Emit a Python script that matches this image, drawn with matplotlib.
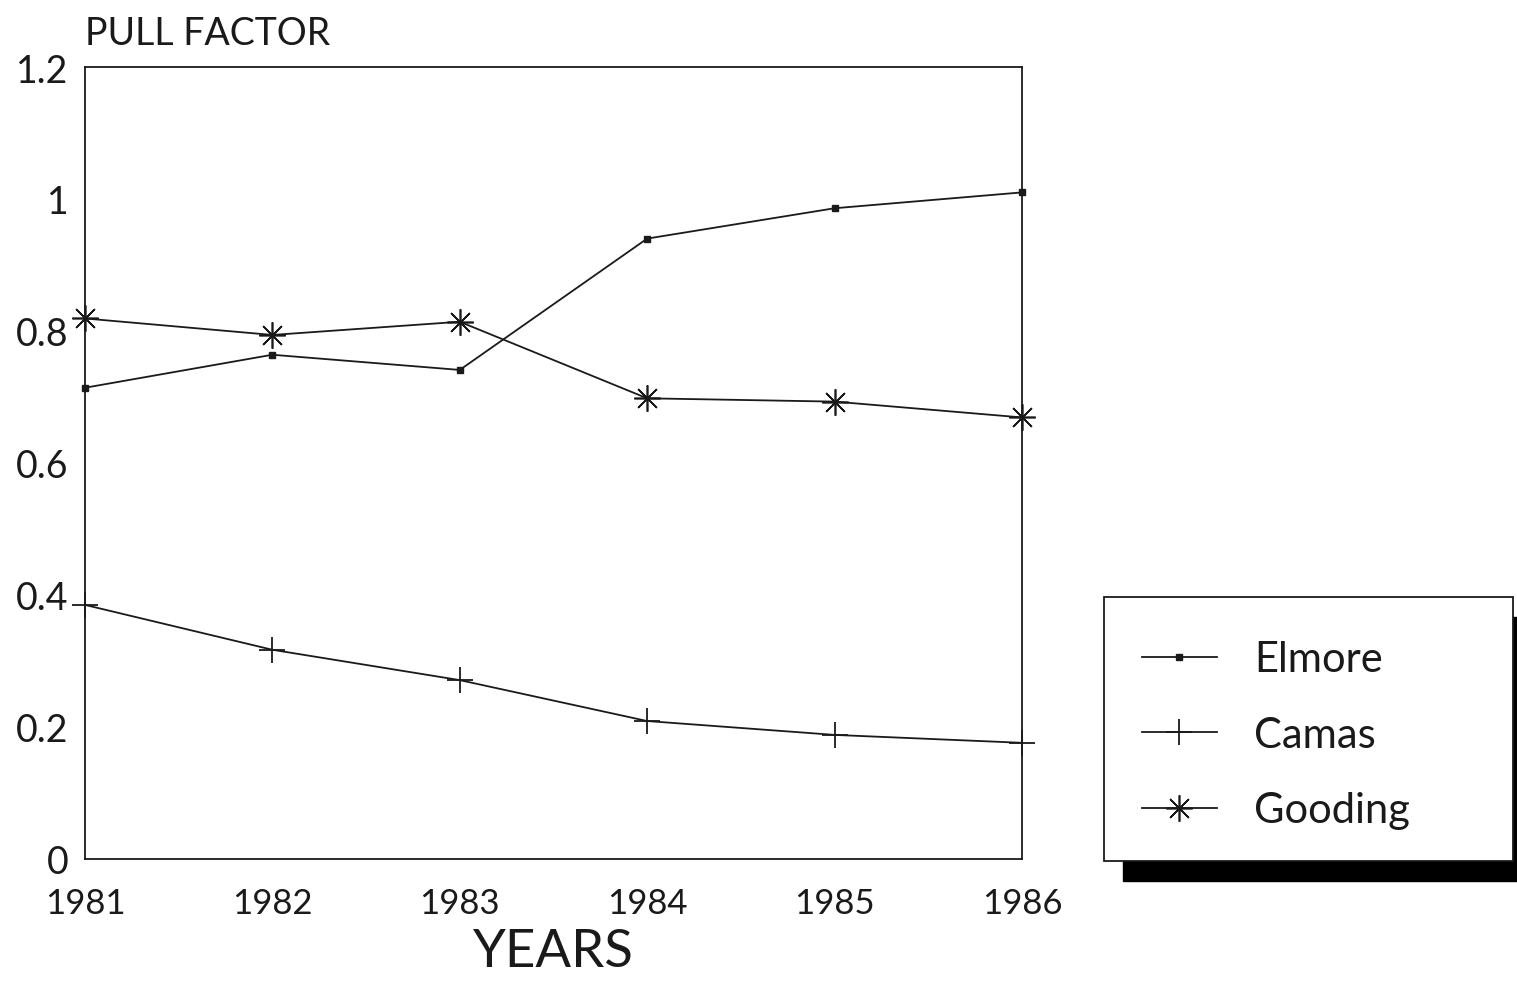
import matplotlib
matplotlib.use('Agg')
import matplotlib.pyplot as plt
from matplotlib.patches import Rectangle
from matplotlib.lines import Line2D

YEARS = [1981, 1982, 1983, 1984, 1985, 1986]
ELMORE = [0.714, 0.764, 0.741, 0.940, 0.986, 1.010]
CAMAS = [0.385, 0.317, 0.271, 0.209, 0.188, 0.176]
GOODING = [0.819, 0.794, 0.814, 0.698, 0.693, 0.669]

Y_TICKS = [0, 0.2, 0.4, 0.6, 0.8, 1.0, 1.2]
Y_TICK_LABELS = ["0", "0.2", "0.4", "0.6", "0.8", "1", "1.2"]

FONT = dict(family="Lato", weight="normal")
INK = "#1a1a1a"

fig = plt.figure(figsize=(15.17, 9.87), dpi=100, facecolor="white")
ax = fig.add_axes([0.056, 0.1287, 0.6177, 0.8024])

ax.plot(YEARS, ELMORE, color=INK, lw=1.3, marker="s", ms=4.5, mfc=INK, mec=INK,
        clip_on=False, label="Elmore")
ax.plot(YEARS, CAMAS, color=INK, lw=1.3, marker="+", ms=19, mew=1.3,
        clip_on=False, label="Camas")
ax.plot(YEARS, GOODING, color=INK, lw=1.3, marker=(8, 2, 0), ms=19, mew=1.2,
        clip_on=False, label="Gooding")

ax.set_xlim(1981, 1986)
ax.set_ylim(0, 1.2)
ax.set_xticks(YEARS)
ax.set_xticklabels([str(y) for y in YEARS], fontsize=25, **FONT)
ax.set_yticks(Y_TICKS)
ax.set_yticklabels(Y_TICK_LABELS, fontsize=27, **FONT)
ax.tick_params(length=0, colors=INK)
ax.tick_params(axis="x", pad=20)
ax.tick_params(axis="y", pad=12)
for spine in ax.spines.values():
    spine.set_color(INK)
    spine.set_linewidth(1.3)

ax.set_xlabel("YEARS", fontsize=38, color=INK, labelpad=7, **FONT)
ax.text(0.0, 1.02, "PULL FACTOR", transform=ax.transAxes, ha="left", va="bottom",
        fontsize=27, color=INK, **FONT)

# legend box with solid black drop shadow
box_x, box_y, box_w, box_h = 1104 / 1517, 125 / 987, 409 / 1517, 264 / 987
off_x, off_y = 19 / 1517, 20 / 987
fig.patches.append(Rectangle((box_x + off_x, box_y - off_y), box_w, box_h,
                             transform=fig.transFigure, facecolor="black",
                             edgecolor="black", zorder=1))
fig.patches.append(Rectangle((box_x, box_y), box_w, box_h,
                             transform=fig.transFigure, facecolor="white",
                             edgecolor=INK, lw=1.3, zorder=2))

handles = [
    Line2D([], [], color=INK, lw=1.3, marker="s", ms=4.5, mfc=INK, mec=INK),
    Line2D([], [], color=INK, lw=1.3, marker="+", ms=19, mew=1.3),
    Line2D([], [], color=INK, lw=1.3, marker=(8, 2, 0), ms=19, mew=1.2),
]
leg = fig.legend(handles, ["Elmore", "Camas", "Gooding"], loc="center left",
                 bbox_to_anchor=(1125 / 1517, (987 - 736) / 987), frameon=False,
                 borderaxespad=0, handlelength=1.8, handletextpad=0.9,
                 labelspacing=0.9, prop=dict(size=30, **FONT))
for t in leg.get_texts():
    t.set_color(INK)
leg.set_zorder(3)

fig.savefig("out.png", dpi=100, facecolor="white")
